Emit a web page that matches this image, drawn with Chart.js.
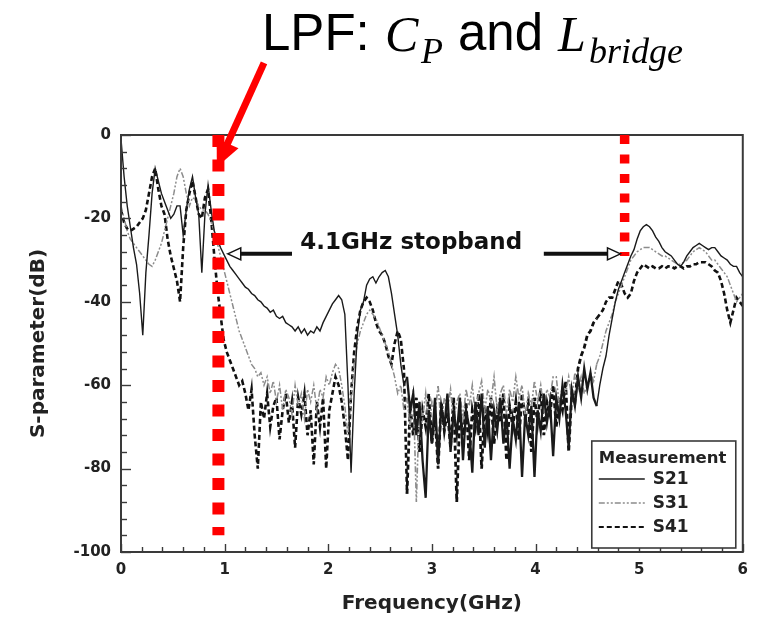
<!DOCTYPE html>
<html>
<head>
<meta charset="utf-8">
<script src="https://cdn.jsdelivr.net/npm/chart.js@4.4.0/dist/chart.umd.min.js"></script>
<style>
  html, body { margin:0; padding:0; background:#fff; }
  #wrap { width:757px; height:618px; }
</style>
</head>
<body>
<div id="wrap"><canvas id="chart" width="757" height="618"></canvas></div>
<script>
// ------------------ DATA ------------------
const freq = [
  0,0.03,0.06,0.09,0.12,0.15,0.18,0.21,0.24,0.27,
  0.30,0.33,0.36,0.39,0.42,0.45,0.48,0.51,0.54,0.57,
  0.60,0.63,0.66,0.69,0.72,0.75,0.78,0.81,0.84,0.87,
  0.90,0.93,0.96,0.99,1.02,1.05,1.08,1.11,1.14,1.17,
  1.20,1.23,1.26,1.29,1.32,1.35,1.38,1.41,1.44,1.47,
  1.50,1.53,1.56,1.59,1.62,1.65,1.68,1.71,1.74,1.77,
  1.80,1.83,1.86,1.89,1.92,1.95,1.98,2.01,2.04,2.07,
  2.10,2.13,2.16,2.19,2.22,2.25,2.28,2.31,2.34,2.37,
  2.40,2.43,2.46,2.49,2.52,2.55,2.58,2.61,2.64,2.67,
  2.70,2.73,2.76,2.79,2.82,2.85,2.88,2.91,2.94,2.97,
  3.00,3.03,3.06,3.09,3.12,3.15,3.18,3.21,3.24,3.27,
  3.30,3.33,3.36,3.39,3.42,3.45,3.48,3.51,3.54,3.57,
  3.60,3.63,3.66,3.69,3.72,3.75,3.78,3.81,3.84,3.87,
  3.90,3.93,3.96,3.99,4.02,4.05,4.08,4.11,4.14,4.17,
  4.20,4.23,4.26,4.29,4.32,4.35,4.38,4.41,4.44,4.47,
  4.50,4.53,4.56,4.59,4.62,4.65,4.68,4.71,4.74,4.77,
  4.80,4.83,4.86,4.89,4.92,4.95,4.98,5.01,5.04,5.07,
  5.10,5.13,5.16,5.19,5.22,5.25,5.28,5.31,5.34,5.37,
  5.40,5.43,5.46,5.49,5.52,5.55,5.58,5.61,5.64,5.67,
  5.70,5.73,5.76,5.79,5.82,5.85,5.88,5.91,5.94,5.97,
  6.00
];

const s21 = [
  -1,-10,-17,-22,-27,-31,-38,-48,-33,-24,
  -14,-8,-11,-14,-16,-18,-20,-19,-17,-17,
  -24,-18,-13,-10,-15,-19,-33,-19,-12,-18,
  -23,-25,-27,-28.5,-30,-31.5,-32.5,-33.5,-34.5,-35.5,
  -36.5,-37,-38,-38.5,-39.5,-40,-41,-41.5,-42.5,-42,
  -43.5,-44,-43.5,-45,-45.5,-46,-47,-46,-47.5,-46.5,
  -48,-47,-47.5,-46,-47,-45,-43.5,-42,-40.5,-39.5,
  -38.5,-39.5,-43,-60,-81,-62,-48,-42,-40,-36,
  -34.5,-34,-35.5,-34,-33,-32.5,-34,-38,-43,-48,
  -55,-60,-58,-66,-62,-72,-64,-78,-87,-66,
  -74,-63,-79,-65,-70,-62,-76,-66,-72,-63,
  -78,-66,-70,-81,-64,-72,-62,-75,-65,-78,
  -66,-71,-63,-74,-67,-80,-68,-73,-64,-82,
  -67,-72,-65,-82,-66,-71,-62,-69,-64,-77,
  -63,-68,-60,-66,-75,-61,-65,-58,-63,-56,
  -61,-57,-63,-65,-60,-56,-53,-48,-44,-40,
  -37,-35,-33,-31,-29,-27.5,-25,-23,-22,-21.5,
  -22,-23,-24.5,-25.5,-27,-28,-28.5,-29,-30,-31,
  -31.5,-30.5,-29,-28,-27,-26.5,-26,-26.5,-27,-27.5,
  -27,-27,-28,-29,-29.5,-30,-31,-31.5,-31.5,-33,
  -34
];

const s31 = [
  -17,-20,-23,-25,-26,-27,-28,-29,-30,-31,
  -31.5,-30,-28,-26,-23,-20,-17,-14,-10,-8,
  -10,-14,-17,-15,-15.5,-17,-18,-18,-19,-21,
  -23,-26,-29,-32,-35,-38,-41,-44,-47,-49,
  -51,-53,-55,-56,-58,-57,-60,-58,-62,-59,
  -64,-60,-66,-61,-63,-67,-60,-65,-62,-68,
  -61,-64,-60,-66,-61,-63,-58,-60,-57,-55,
  -56,-60,-65,-72,-63,-55,-50,-47,-45,-43,
  -42,-43,-44,-46,-48,-50,-52,-55,-58,-62,
  -60,-66,-63,-70,-61,-88,-64,-68,-62,-71,
  -64,-67,-60,-70,-63,-66,-61,-69,-64,-62,
  -68,-61,-65,-60,-67,-62,-59,-66,-61,-64,
  -58,-66,-62,-60,-67,-61,-64,-58,-63,-60,
  -68,-62,-65,-59,-64,-60,-66,-61,-63,-58,
  -58,-65,-60,-62,-58,-63,-57,-61,-58,-62,
  -60,-57,-59,-55,-53,-50,-47,-45,-43,-40,
  -38,-36,-34,-32,-30,-29,-28,-27.5,-27,-27,
  -27,-27.5,-28,-28.5,-29,-29,-29.5,-30,-30.5,-31,
  -31,-30.5,-30,-29,-28,-27.5,-27,-27.5,-28,-29,
  -30,-30,-31,-32,-33,-34,-36,-38,-40,-39,
  -38
];

const s41 = [
  -18,-21,-22.5,-23,-22.5,-22,-21,-20,-18,-14,
  -10,-8,-13,-17,-19,-25,-29,-32,-35,-40,
  -27,-18,-14,-11,-15,-19,-20,-15,-13,-20,
  -29,-37,-43,-49,-52,-54,-56,-58,-60,-59,
  -62,-66,-61,-72,-80,-64,-68,-62,-70,-65,
  -63,-73,-66,-62,-69,-64,-75,-63,-67,-62,
  -72,-66,-79,-64,-70,-63,-80,-66,-62,-58,
  -60,-64,-70,-78,-62,-52,-46,-42,-40,-39,
  -40,-42,-45,-47,-48,-50,-53,-55,-50,-47,
  -49,-56,-86,-65,-72,-63,-76,-66,-70,-62,
  -74,-67,-80,-64,-71,-66,-75,-63,-88,-67,
  -72,-64,-78,-66,-70,-62,-80,-65,-71,-63,
  -74,-66,-69,-62,-78,-65,-70,-64,-73,-62,
  -68,-64,-76,-63,-69,-61,-72,-64,-67,-60,
  -70,-63,-66,-59,-76,-62,-64,-56,-53,-51,
  -48,-47,-45,-44,-43,-42,-40,-39,-39,-37,
  -35,-36,-38,-39,-38,-35,-33,-32,-31,-31.5,
  -32,-31.5,-32,-32,-31.5,-32,-31.5,-31.5,-32,-31.5,
  -31.5,-32,-31.5,-31.5,-31,-31,-30.5,-30.5,-30.5,-31,
  -31.5,-32.5,-33,-35,-38,-42,-45,-42,-39,-40,
  -41
];

const seriesNames = ["S21", "S31", "S41"];
const legendTitle = "Measurement";

// annotations, in data units (GHz, dB)
const cutoffFreq = [0.94, 4.86];
const cutoffLow  = [-96, -29];
const stopbandFrom = [1.65, 4.08];
const stopbandTip  = [1.03, 4.82];
const stopbandDb   = -28.5;
const stopbandText = "4.1GHz stopband";
const stopbandTextAt = [2.8, -26];
const pointerFrom = [1.38, 17.3];
const pointerTip  = [0.925, -7.7];
const noiseBand = [2.75, 4.6];   // dense measured ripple, drawn heavier

const xTitle = "Frequency(GHz)";
const yTitle = "S-parameter(dB)";

// ------------------ STYLE ------------------
const FONT = "'DejaVu Sans', sans-serif";
const styles = [
  { color:"#1a1a1a", width:1.4, noise:2.3, dash:[] },
  { color:"#8c8c8c", width:1.5, noise:1.6, dash:[6,2,2,2,2,2] },
  { color:"#111111", width:2.6, noise:2.8, dash:[5,3] }
];

// ------------------ DECOR PLUGIN ------------------
const decor = {
  id: "decor",
  afterDraw(chart){
    const ctx = chart.ctx, a = chart.chartArea;
    const xs = chart.scales.x, ys = chart.scales.y;
    ctx.save();

    // frame
    ctx.strokeStyle = "#3a3a3a"; ctx.lineWidth = 2; ctx.setLineDash([]);
    ctx.strokeRect(a.left, a.top, a.right - a.left, a.bottom - a.top);

    // inward ticks
    ctx.lineWidth = 1.4;
    for(let v = 0; v <= 6.0001; v += 0.2){
      const px = Math.round(xs.getPixelForValue(v)) + 0.5;
      const major = Math.abs(v - Math.round(v)) < 1e-6;
      ctx.beginPath(); ctx.moveTo(px, a.bottom); ctx.lineTo(px, a.bottom - (major ? 8 : 5)); ctx.stroke();
    }
    for(let v = -100; v <= 0; v += 4){
      const py = Math.round(ys.getPixelForValue(v)) + 0.5;
      const major = v % 20 === 0;
      ctx.beginPath(); ctx.moveTo(a.left, py); ctx.lineTo(a.left + (major ? 10 : 6), py); ctx.stroke();
    }

    // red cut-off markers
    ctx.strokeStyle = "#ff0000"; ctx.lineCap = "butt";
    const mk = [{w:12, dash:[12,12.5]}, {w:9.5, dash:[9,10.5]}];
    cutoffFreq.forEach((f,k)=>{
      ctx.lineWidth = mk[k].w; ctx.setLineDash(mk[k].dash);
      const px = xs.getPixelForValue(f);
      ctx.beginPath(); ctx.moveTo(px, ys.getPixelForValue(0)); ctx.lineTo(px, ys.getPixelForValue(cutoffLow[k])); ctx.stroke();
    });
    ctx.setLineDash([]);

    // stopband arrows (open heads)
    const yb = ys.getPixelForValue(stopbandDb);
    stopbandFrom.forEach((f,k)=>{
      const x0 = xs.getPixelForValue(f), x1 = xs.getPixelForValue(stopbandTip[k]);
      const dir = Math.sign(x1 - x0), hl = 13, hw = 6;
      ctx.strokeStyle = "#111"; ctx.lineWidth = 4;
      ctx.beginPath(); ctx.moveTo(x0, yb); ctx.lineTo(x1 - dir*hl, yb); ctx.stroke();
      ctx.lineWidth = 1.5; ctx.fillStyle = "#fff";
      ctx.beginPath(); ctx.moveTo(x1, yb); ctx.lineTo(x1 - dir*hl, yb - hw); ctx.lineTo(x1 - dir*hl, yb + hw); ctx.closePath();
      ctx.fill(); ctx.stroke();
    });
    ctx.fillStyle = "#111"; ctx.font = "bold 23px " + FONT;
    ctx.textAlign = "center"; ctx.textBaseline = "middle";
    ctx.fillText(stopbandText, xs.getPixelForValue(stopbandTextAt[0]), ys.getPixelForValue(stopbandTextAt[1]));

    // legend
    const lx = a.right - 151, ly = a.bottom - 111, lw = 144, lh = 107;
    ctx.fillStyle = "#fff"; ctx.fillRect(lx, ly, lw, lh);
    ctx.strokeStyle = "#3a3a3a"; ctx.lineWidth = 1.6; ctx.strokeRect(lx, ly, lw, lh);
    ctx.fillStyle = "#222"; ctx.textAlign = "left"; ctx.textBaseline = "alphabetic";
    ctx.font = "bold 16.5px " + FONT;
    ctx.fillText(legendTitle, lx + 7, ly + 22);
    chart.data.datasets.forEach((ds,k)=>{
      const yy = ly + 38 + k*24;
      ctx.strokeStyle = ds.borderColor; ctx.lineWidth = Math.min(ds.borderWidth, 2.2);
      ctx.setLineDash(ds.borderDash || []);
      ctx.beginPath(); ctx.moveTo(lx + 7, yy); ctx.lineTo(lx + 53, yy); ctx.stroke();
      ctx.setLineDash([]);
      ctx.textBaseline = "middle"; ctx.fillStyle = "#222";
      ctx.font = "bold 17px " + FONT;
      ctx.fillText(ds.label, lx + 61, yy + 1);
    });

    // axis titles
    ctx.font = "bold 20px " + FONT; ctx.fillStyle = "#222";
    ctx.textAlign = "center"; ctx.textBaseline = "middle";
    ctx.fillText(xTitle, (a.left + a.right)/2, 604);
    ctx.save();
    ctx.translate(39, (a.top + a.bottom)/2); ctx.rotate(-Math.PI/2);
    ctx.fillText(yTitle, 0, 0);
    ctx.restore();

    // red pointer arrow
    const p0x = xs.getPixelForValue(pointerFrom[0]), p0y = ys.getPixelForValue(pointerFrom[1]);
    const p1x = xs.getPixelForValue(pointerTip[0]),  p1y = ys.getPixelForValue(pointerTip[1]);
    const L = Math.hypot(p1x - p0x, p1y - p0y), ux = (p1x - p0x)/L, uy = (p1y - p0y)/L;
    const head = 26, half = 12;
    const bx = p1x - ux*head, by = p1y - uy*head;
    ctx.strokeStyle = "#ff0000"; ctx.fillStyle = "#ff0000"; ctx.lineWidth = 7;
    ctx.beginPath(); ctx.moveTo(p0x, p0y); ctx.lineTo(bx + ux*2, by + uy*2); ctx.stroke();
    ctx.beginPath(); ctx.moveTo(p1x, p1y); ctx.lineTo(bx - uy*half, by + ux*half); ctx.lineTo(bx + uy*half, by - ux*half); ctx.closePath(); ctx.fill();

    // headline: LPF: C_P and L_bridge
    ctx.fillStyle = "#000"; ctx.textAlign = "left"; ctx.textBaseline = "alphabetic";
    ctx.font = "51px 'Liberation Sans', Arial, sans-serif";
    ctx.fillText("LPF:", 262, 50);
    ctx.fillText("and", 458, 50);
    ctx.font = "italic 50px 'Liberation Serif', 'Times New Roman', serif";
    ctx.fillText("C", 385, 51);
    ctx.fillText("L", 558, 51);
    ctx.font = "italic 36px 'Liberation Serif', 'Times New Roman', serif";
    ctx.fillText("P", 421, 63);
    ctx.fillText("bridge", 589, 63);

    ctx.restore();
  }
};

// ------------------ CHART ------------------
const inNoise = c => c.p0.parsed.x >= noiseBand[0] && c.p1.parsed.x <= noiseBand[1];

const datasets = seriesNames.map((name,k)=>{
  const vals = [s21, s31, s41][k];
  return {
    label: name,
    data: freq.map((f,i)=>({ x:f, y:vals[i] })),
    borderColor: styles[k].color,
    borderWidth: styles[k].width,
    borderDash: styles[k].dash,
    segment: { borderWidth: c => inNoise(c) ? styles[k].noise : undefined },
    pointRadius: 0,
    tension: 0,
    fill: false
  };
});

const tickFont = { family: FONT, size: 15, weight: "bold" };

new Chart(document.getElementById("chart"), {
  type: "line",
  data: { datasets },
  options: {
    responsive: false,
    animation: false,
    devicePixelRatio: 1,
    layout: { padding: { left:0, right:12, top:135, bottom:0 } },
    plugins: { legend:{ display:false }, tooltip:{ enabled:false } },
    scales: {
      x: {
        type: "linear", min: 0, max: 6,
        grid: { display:false, drawTicks:false },
        border: { display:false },
        ticks: { stepSize:1, padding:9, color:"#222", font:tickFont, maxRotation:0 },
        afterFit: s => { s.height = 66; }
      },
      y: {
        type: "linear", min: -100, max: 0,
        grid: { display:false, drawTicks:false },
        border: { display:false },
        ticks: { stepSize:20, padding:10, color:"#222", font:tickFont },
        afterFit: s => { s.width = 121; }
      }
    }
  },
  plugins: [decor]
});
</script>
</body>
</html>
